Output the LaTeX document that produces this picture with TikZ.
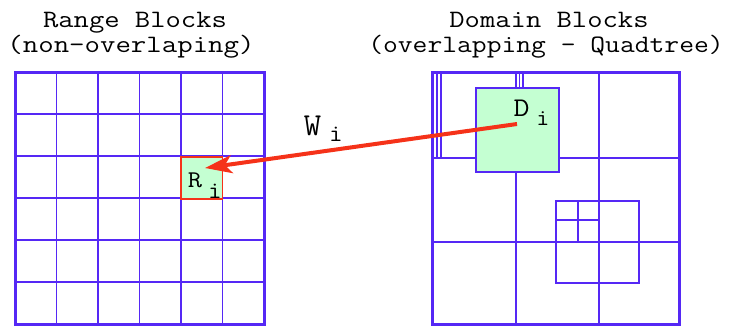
\documentclass[tikz,border=0pt]{standalone}
\usepackage{graphicx}
\usetikzlibrary{arrows.meta}

\definecolor{blockblue}{RGB}{85,40,245}
\definecolor{blockgreen}{RGB}{196,255,210}
\definecolor{mapred}{RGB}{245,50,25}

% wide typewriter text: size, horizontal stretch, text
\newcommand{\wtt}[3]{{\fontsize{#1}{#1}\selectfont\scalebox{#2}[1]{#3}}}

\begin{document}
\begin{tikzpicture}[x=1pt,y=-1pt,
  thinline/.style={draw=blockblue,line width=1.5pt},
  thickline/.style={draw=blockblue,line width=3pt},
  rangebox/.style={rectangle,fill=blockgreen,draw=mapred,line width=1.1pt,
    minimum width=41.5pt,minimum height=42pt,inner sep=0pt},
  domainbox/.style={rectangle,fill=blockgreen,draw=blockblue,line width=1.1pt,
    minimum width=83pt,minimum height=84pt,inner sep=0pt},
  title/.style={inner sep=0pt,anchor=base,font=\ttfamily},
  lbl/.style={inner sep=0pt,anchor=base,font=\ttfamily},
  maparrow/.style={draw=mapred,line width=4pt,
    -{Stealth[length=27pt,width=18pt,inset=7pt]}}]
\useasboundingbox (0,0) rectangle (740,327);

% titles
\node[title] (rangeT) at (135,27) {\wtt{25}{1.19}{Range Blocks}};
\node[title] (rangeS) at (131,52) {\wtt{25}{1.2}{(non-overlaping)}};
\node[title] (domT) at (549,27) {\wtt{25}{1.19}{Domain Blocks}};
\node[title] (domS) at (546,52) {\wtt{25}{1.15}{(overlapping - Quadtree)}};

% range blocks: regular 6x6 partition
\foreach \k in {1,...,5} {
  \draw[thinline] ({15+41.5*\k},72) -- ({15+41.5*\k},324);
  \draw[thinline] (15,{72+42*\k}) -- (264,{72+42*\k});
}
\node[rangebox] (Ri) at (201.75,178) {};
\draw[thickline] (15,72) rectangle (264,324);

% domain blocks: quadtree cells and overlapping copies
\draw[thinline] (516,72) -- (516,324);
\draw[thinline] (599,72) -- (599,324);
\draw[thinline] (432,158) -- (679,158);
\draw[thinline] (432,242) -- (679,242);
\draw[thinline] (437,72) rectangle (519.5,158);
\draw[thinline] (441,72) rectangle (523,158);
\node[domainbox] (Di) at (517.5,130) {};
\draw[thinline] (556,201) rectangle (639,283);
\draw[thinline] (578,201) -- (578,242);
\draw[thinline] (556,220) -- (599,220);
\draw[thickline] (432,72.5) rectangle (679.5,324);

% labels
\node[lbl] (Rmain) at (195,187.7) {\wtt{24}{1.15}{R}};
\node[lbl] (Rsub) at (215,198) {\wtt{24}{1.1}{i}};
\node[lbl] (Dmain) at (521.5,116.7) {\wtt{27}{1.15}{D}};
\node[lbl] (Dsub) at (543,125.7) {\wtt{23}{1.1}{i}};
\node[lbl] (Wmain) at (312.5,135) {\wtt{32}{1.05}{W}};
\node[lbl] (Wsub) at (336,141.7) {\wtt{24}{1.1}{i}};

% transformation arrow
\coordinate (wtail) at (517,124);
\coordinate (whead) at (205,168);
\draw[maparrow] (wtail) -- (whead);
\end{tikzpicture}
\end{document}
